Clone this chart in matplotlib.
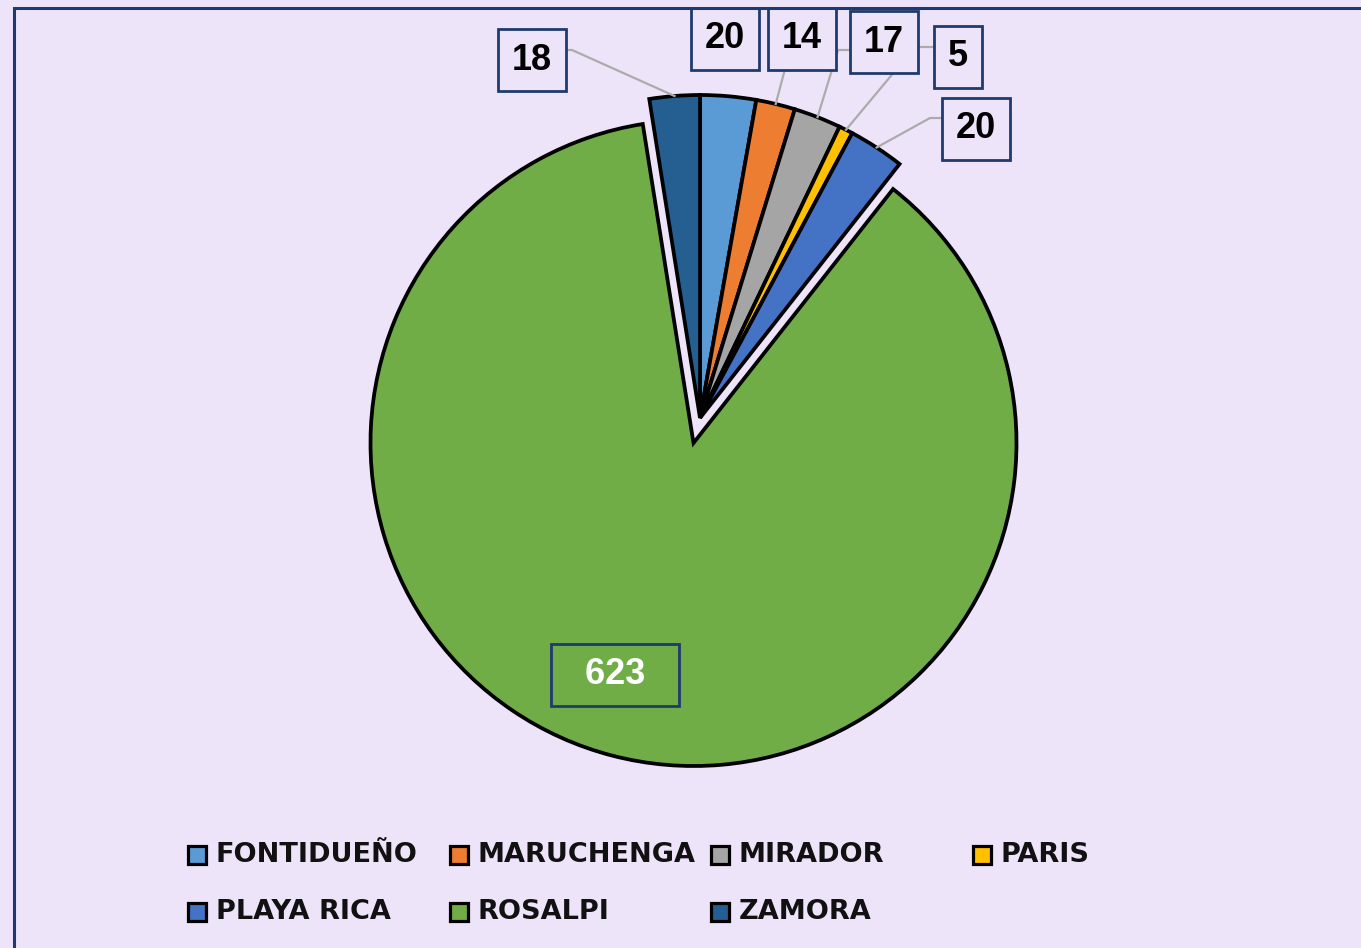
import matplotlib.pyplot as plt
from matplotlib.patches import Rectangle
import numpy as np

# data
names = ['FONTIDUEÑO', 'MARUCHENGA', 'MIRADOR', 'PARIS', 'PLAYA RICA', 'ROSALPI', 'ZAMORA']
values = [20, 14, 17, 5, 20, 623, 18]
colors = ['#5B9BD5', '#ED7D31', '#A5A5A5', '#FFC000', '#4472C4', '#70AD47', '#255E91']
explode = [0, 0, 0, 0, 0, 0.08, 0]

BG = '#EEE4FA'
NAVY = '#1F3A6E'
W, H = 1361, 948
CX, CY, R = 700, 418, 323  # pie centre / radius in pixels

fig = plt.figure(figsize=(W / 100, H / 100), dpi=100, facecolor=BG)
L = 420 / R
ax = fig.add_axes([(CX - 420) / W, (H - CY - 420) / H, 840 / W, 840 / H])
wedges, _ = ax.pie(values, colors=colors, startangle=90, counterclock=False,
                   explode=explode,
                   wedgeprops=dict(edgecolor='black', linewidth=2.7, joinstyle='miter'))
ax.set_xlim(-L, L)
ax.set_ylim(-L, L)
ax.set_aspect('equal')
ax.set_axis_off()


def px(x, y):
    return (x - CX) / R, (CY - y) / R


# label boxes (pixel centres) and leader elbows / ends
label_pix = [(725, 39), (802, 39), (884, 42), (958, 57), (976, 129), (615, 675), (532, 60)]
leader_pix = [None,
              [(785, 69)],
              [(838, 50), (852, 50)],
              [(915, 47), (936, 47)],
              [(930, 118), (945, 118)],
              None,
              [(572, 50), (563, 50)]]

for i, w in enumerate(wedges):
    lx, ly = px(*label_pix[i])
    if names[i] == 'ROSALPI':
        ax.text(lx, ly, '  %d  ' % values[i], ha='center', va='center', fontsize=26,
                fontweight='bold', family='Liberation Sans', color='white',
                bbox=dict(boxstyle='square,pad=0.38', fc='none', ec=NAVY, lw=2))
        continue
    ax.text(lx, ly, str(values[i]), ha='center', va='center', fontsize=26,
            fontweight='bold', family='Liberation Sans', color='black',
            bbox=dict(boxstyle='square,pad=0.38', fc=BG, ec=NAVY, lw=2), zorder=5)
    if leader_pix[i] is not None:
        th = np.deg2rad((w.theta1 + w.theta2) / 2)
        cx, cy = w.center
        xs = [cx + np.cos(th)] + [px(*p)[0] for p in leader_pix[i]]
        ys = [cy + np.sin(th)] + [px(*p)[1] for p in leader_pix[i]]
        ax.plot(xs, ys, color='#ABABAB', lw=1.6, zorder=4, clip_on=False)

# frame
fig.add_artist(Rectangle((14 / W, -0.02), 1.1, 1.02 - 8 / H, transform=fig.transFigure,
                         fc='none', ec=NAVY, lw=2.2))

# legend
for i, name in enumerate(names):
    col, row = i % 4, i // 4
    x0 = 188 + 261.5 * col
    y0 = 855 + 57 * row
    fig.add_artist(Rectangle((x0 / W, 1 - (y0 + 9) / H), 18 / W, 18 / H,
                             transform=fig.transFigure, fc=colors[i], ec='black', lw=2.3))
    fig.text((x0 + 28) / W, 1 - y0 / H, name, ha='left', va='center', fontsize=19.5,
             fontweight='bold', color='#111111')

fig.savefig('out.png', dpi=100, facecolor=BG)
